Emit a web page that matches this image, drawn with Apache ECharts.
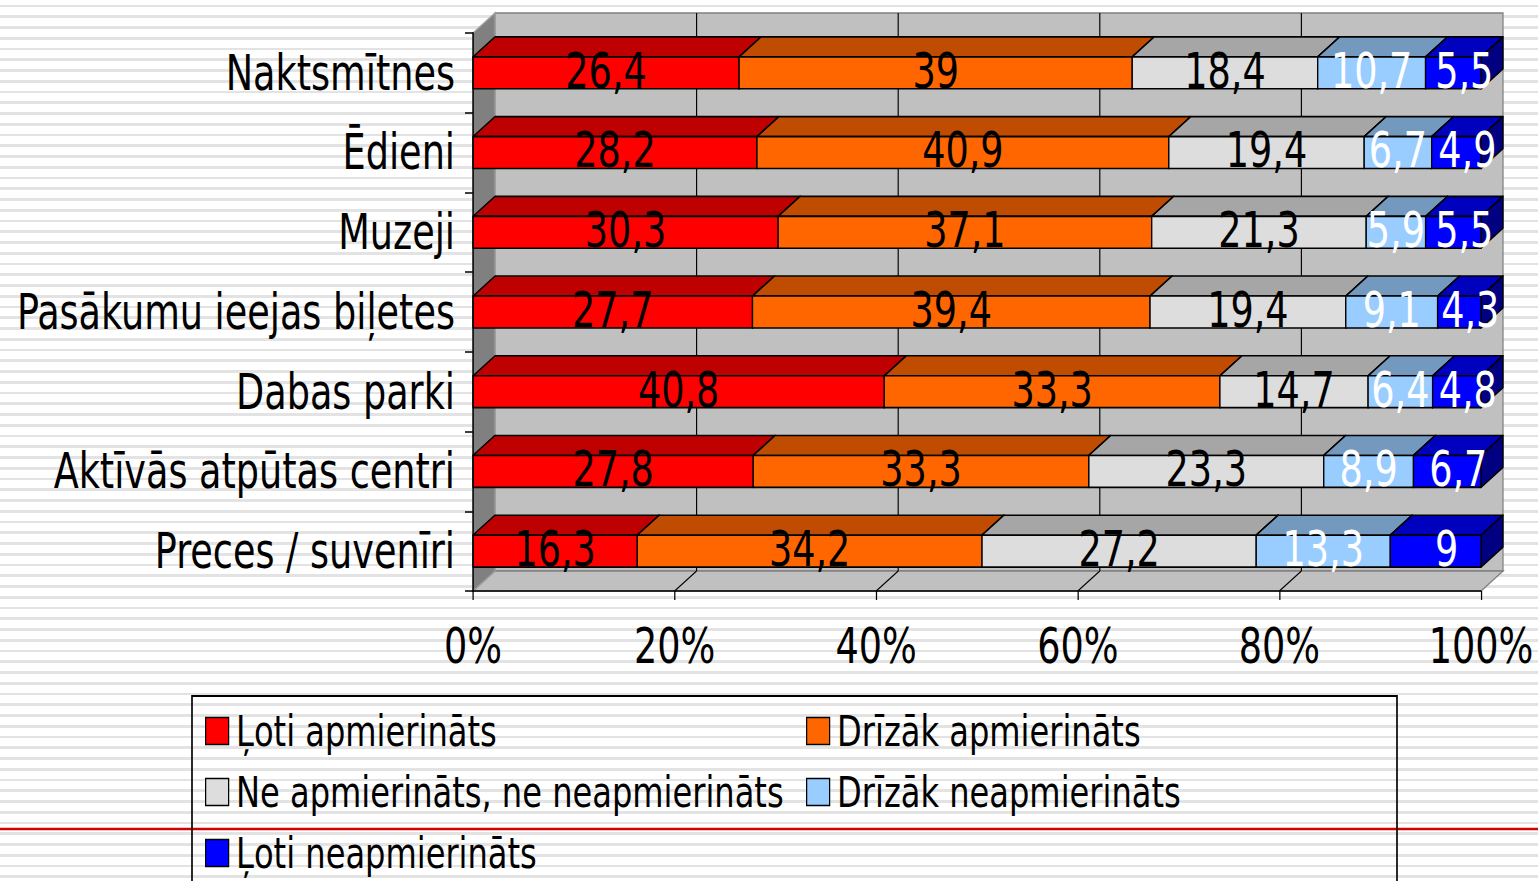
<!DOCTYPE html>
<html><head><meta charset="utf-8">
<script src="https://cdn.jsdelivr.net/npm/echarts@6/dist/echarts.min.js"></script>
<style>
html,body{margin:0;padding:0;width:1538px;height:881px;overflow:hidden;
background: repeating-linear-gradient(to bottom,#fff 0px,#fff 4.6px,#e3e3e3 4.6px,#e3e3e3 7.4px,#fff 7.4px,#fff 10.75px);}
#c{width:1853px;height:881px;transform:scaleX(0.83);transform-origin:0 0;}
</style></head><body><div id="c"></div>
<script>
// ---- data ----
const categories = ['Naktsmītnes','Ēdieni','Muzeji','Pasākumu ieejas biļetes','Dabas parki','Aktīvās atpūtas centri','Preces / suvenīri'];
const seriesNames = ['Ļoti apmierināts','Drīzāk apmierināts','Ne apmierināts, ne neapmierināts','Drīzāk neapmierināts','Ļoti neapmierināts'];
const verySatisfied   = [26.4, 28.2, 30.3, 27.7, 40.8, 27.8, 16.3];
const ratherSatisfied = [39,   40.9, 37.1, 39.4, 33.3, 33.3, 34.2];
const neutral         = [18.4, 19.4, 21.3, 19.4, 14.7, 23.3, 27.2];
const ratherDissat    = [10.7, 6.7,  5.9,  9.1,  6.4,  8.9,  13.3];
const veryDissat      = [5.5,  4.9,  5.5,  4.3,  4.8,  6.7,  9];
const xTickLabels = ['0%','20%','40%','60%','80%','100%'];

// ---- styles / layout (the chart is drawn in a horizontally condensed frame) ----
const SX = 0.83;                 // horizontal condensing of the whole drawing
const px = (v) => v / SX;        // visual x pixels -> drawing units
const FONT = "'DejaVu Sans Condensed','DejaVu Sans',sans-serif";
const frontColors = ['#ff0000','#ff6600','#dddddd','#99ccff','#0000ff'];
const topColors   = ['#bf0000','#bf4c00','#a6a6a6','#7399bf','#0000bf'];
const sideColors  = ['#800000','#803300','#6e6e6e','#4d6680','#000080'];
const labelColors = ['#000','#000','#000','#fff','#fff'];
const DX = px(22), DY = 20, BAR_RATIO = 0.4;

const allSeries = [verySatisfied, ratherSatisfied, neutral, ratherDissat, veryDissat];
const totals = categories.map((c, j) => allSeries.reduce((s, a) => s + a[j], 0));

function bandInfo(api){
  const n = categories.length;
  const band = api.size([0, 1])[1];
  const c0 = api.coord([0, 0]);
  const cN = api.coord([0, n - 1]);
  return {band, yTop: c0[1] - band / 2, yBot: cN[1] + band / 2,
          x0: c0[0], x1: api.coord([100, 0])[0]};
}

function renderWalls(params, api){
  const b = bandInfo(api);
  const ch = [];
  ch.push({type:'polygon', shape:{points:[[b.x0+DX,b.yTop-DY],[b.x1+DX,b.yTop-DY],[b.x1+DX,b.yBot-DY],[b.x0+DX,b.yBot-DY]]},
           style:{fill:'#c0c0c0', stroke:'#808080', lineWidth:1.5}});
  ch.push({type:'polygon', shape:{points:[[b.x0,b.yBot],[b.x1,b.yBot],[b.x1+DX,b.yBot-DY],[b.x0+DX,b.yBot-DY]]},
           style:{fill:'#c0c0c0', stroke:'#808080', lineWidth:1.5}});
  ch.push({type:'polygon', shape:{points:[[b.x0,b.yTop],[b.x0+DX,b.yTop-DY],[b.x0+DX,b.yBot-DY],[b.x0,b.yBot]]},
           style:{fill:'#808080', stroke:'#a0a0a0', lineWidth:1.5}});
  xTickLabels.forEach((t) => {
    const v = parseFloat(t);
    if (v <= 0 || v >= 100) return;
    const x = api.coord([v, 0])[0];
    ch.push({type:'line', shape:{x1:x+DX, y1:b.yTop-DY, x2:x+DX, y2:b.yBot-DY}, style:{stroke:'#000', lineWidth:1.4}});
    ch.push({type:'line', shape:{x1:x, y1:b.yBot, x2:x+DX, y2:b.yBot-DY}, style:{stroke:'#000', lineWidth:1.4}});
  });
  return {type:'group', children: ch};
}

function makeRender(si){
  const last = si === allSeries.length - 1;
  return function(params, api){
    const s = api.value(0), e = api.value(1), j = api.value(2), raw = api.value(3);
    const a = api.coord([s, j]), c = api.coord([e, j]);
    const band = api.size([0, 1])[1];
    const h = band * BAR_RATIO;
    const yT = a[1] - h / 2, yB = a[1] + h / 2;
    const xL = a[0], xR = c[0];
    const st = {stroke:'#000', lineWidth:1.6, lineJoin:'round'};
    return {type:'group', children:[
      {type:'polygon', shape:{points:[[xL,yT],[xR,yT],[xR+DX,yT-DY],[xL+DX,yT-DY]]}, style:Object.assign({fill:topColors[si]}, st)},
      {type:'polygon', shape:{points:[[xR,yT],[xR+DX,yT-DY],[xR+DX,yB-DY],[xR,yB]]}, style:Object.assign({fill:sideColors[si]}, st)},
      {type:'rect', shape:{x:xL, y:yT, width:xR-xL, height:h}, style:Object.assign({fill:frontColors[si]}, st)},
      {type:'text', x:(xL+xR)/2 + (last ? DX*0.5 : 0), y:a[1]-2, style:{text:String(raw).replace('.', ','), fill:labelColors[si],
        fontSize:49, fontFamily:FONT, align:'center', verticalAlign:'middle'}}
    ]};
  };
}

const barSeries = allSeries.map((arr, si) => {
  const data = arr.map((v, j) => {
    let start = 0;
    for (let k = 0; k < si; k++) start += allSeries[k][j];
    const t = totals[j];
    return [start / t * 100, (start + v) / t * 100, j, v];
  });
  return {type:'custom', name:seriesNames[si], renderItem:makeRender(si), data,
          encode:{x:[0,1], y:2}, itemStyle:{color:frontColors[si], borderColor:'#000', borderWidth:1.5}, z:2};
});

const chart = echarts.init(document.getElementById('c'), null, {renderer:'svg'});
const legendCommon = {orient:'vertical', height:260, padding:0, itemWidth:px(23), itemHeight:27, itemGap:17, icon:'rect', selectedMode:false,
  itemStyle:{borderColor:'#000', borderWidth:1.5},
  textStyle:{fontSize:43, lineHeight:44, fontFamily:FONT, color:'#000', padding:[0,0,0,4]}};
chart.setOption({
  backgroundColor:'transparent',
  animation:false,
  grid:{left:px(473), top:33, width:px(1008), height:558, outerBoundsMode:'none', containLabel:false},
  xAxis:{type:'value', min:0, max:100, interval:20, z:3,
    axisLabel:{formatter:(v)=>xTickLabels[Math.round(v/20)], fontSize:49, fontFamily:FONT, color:'#000', margin:31},
    axisLine:{show:true, lineStyle:{color:'#000', width:1.5}},
    axisTick:{show:true, length:9, lineStyle:{color:'#000', width:1.5}},
    splitLine:{show:false}},
  yAxis:{type:'category', data:categories, inverse:true, z:3,
    axisLabel:{fontSize:49, fontFamily:FONT, color:'#000', margin:px(18), padding:[12,0,0,0]},
    axisLine:{show:true, lineStyle:{color:'#000', width:1.8}},
    axisTick:{show:true, length:px(8), lineStyle:{color:'#000', width:1.5}},
    splitLine:{show:false}},
  legend:[
    Object.assign({left:px(205), top:709, data:[seriesNames[0], seriesNames[2], seriesNames[4]]}, legendCommon),
    Object.assign({left:px(806), top:709, data:[seriesNames[1], seriesNames[3]]}, legendCommon)
  ],
  graphic:[
    {type:'line', z:-10, shape:{x1:0, y1:829, x2:px(1538), y2:829}, style:{stroke:'#d40000', lineWidth:2.5}},
    {type:'rect', z:-5, shape:{x:px(192), y:696, width:px(1205), height:220}, style:{fill:'none', stroke:'#000', lineWidth:2}}
  ],
  series:[{type:'custom', name:'walls', renderItem:renderWalls, data:[[0,0]], encode:{x:0,y:1}, z:1, silent:true}].concat(barSeries)
});
</script></body></html>
